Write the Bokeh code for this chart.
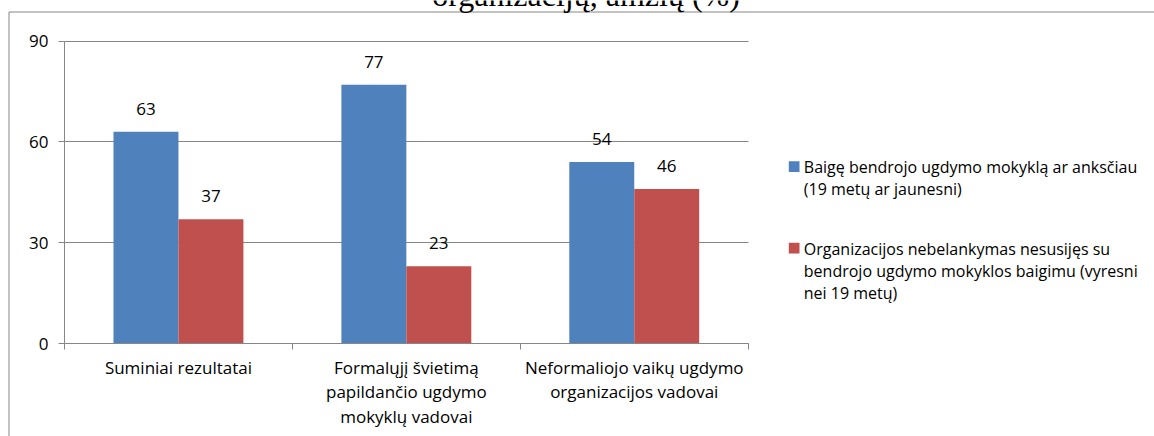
from bokeh.plotting import figure
from bokeh.models import FixedTicker, Range1d, ColumnDataSource
from bokeh.embed import file_html
from bokeh.resources import INLINE
from bokeh.core.properties import value

# ---- data ----
categories = ["Suminiai rezultatai",
              "Formalųjį švietimą\npapildančio ugdymo\nmokyklų vadovai",
              "Neformaliojo vaikų ugdymo\norganizacijos vadovai"]
series_names = [["Baigę bendrojo ugdymo mokyklą ar anksčiau", "(19 metų ar jaunesni)"],
                ["Organizacijos nebelankymas nesusijęs su",
                 "bendrojo ugdymo mokyklos baigimu (vyresni", "nei 19 metų)"]]
blue_vals = [63, 77, 54]
red_vals = [37, 23, 46]
y_ticks = [0, 30, 60, 90]
title_text = "organizacijų, amžių (%)"

# ---- style / layout ----
BLUE = "#4F81BD"
RED = "#C0504D"
GRID = "#868686"
FONT = "Open Sans"
FS = "17px"
LFS = "16px"
W, H = 1154, 436

# plot-area placement in canvas pixels
AX_L, AX_R = 64.0, 747.7          # x of category boundary 0 and 3
AX_B, AX_T = 343.0, 40.5          # y of value 0 and 90
NCAT = len(categories)
YMAX = y_ticks[-1]
sx = (AX_R - AX_L) / NCAT
sy = (AX_B - AX_T) / YMAX


def X(px):
    return (px - AX_L) / sx


def Y(py):
    return (AX_B - py) / sy


p = figure(width=W, height=H, output_backend="svg", toolbar_location=None,
           x_range=Range1d(X(0), X(W)), y_range=Range1d(Y(H), Y(0)),
           min_border=0, min_border_left=0, min_border_right=0,
           min_border_top=0, min_border_bottom=0)
p.outline_line_color = None

bw = 0.285
centers = [i + 0.5 for i in range(NCAT)]
src = ColumnDataSource(dict(
    xb=[c - bw / 2 for c in centers], xr=[c + bw / 2 for c in centers],
    blue=blue_vals, red=red_vals,
    bl=[str(v) for v in blue_vals], rl=[str(v) for v in red_vals]))

p.vbar(x="xb", top="blue", bottom=0, width=bw, source=src, fill_color=BLUE, line_color=None)
p.vbar(x="xr", top="red", bottom=0, width=bw, source=src, fill_color=RED, line_color=None)
p.text(x="xb", y="blue", text="bl", source=src, y_offset=-23, text_align="center",
       text_baseline="middle", text_font=value(FONT), text_font_size=FS, text_color="black")
p.text(x="xr", y="red", text="rl", source=src, y_offset=-23, text_align="center",
       text_baseline="middle", text_font=value(FONT), text_font_size=FS, text_color="black")

# ---- axes (drawn at fixed positions inside the full-canvas frame) ----
ya = p.yaxis[0]
ya.fixed_location = 0
ya.bounds = (0, YMAX)
ya.ticker = FixedTicker(ticks=y_ticks)
ya.axis_line_color = GRID
ya.major_tick_line_color = GRID
ya.major_tick_out = 6
ya.major_tick_in = 0
ya.minor_tick_line_color = None
ya.major_label_standoff = 10
ya.major_label_text_font = FONT
ya.major_label_text_font_size = FS
ya.major_label_text_color = "black"

xa = p.xaxis[0]
xa.fixed_location = 0
xa.bounds = (0, NCAT)
xa.ticker = FixedTicker(ticks=centers, minor_ticks=list(range(NCAT + 1)))
xa.major_label_overrides = {c: lab for c, lab in zip(centers, categories)}
xa.axis_line_color = GRID
xa.major_tick_line_color = None
xa.major_tick_out = 0
xa.major_tick_in = 0
xa.minor_tick_line_color = GRID
xa.minor_tick_out = 6
xa.minor_tick_in = 0
xa.major_label_standoff = 6
xa.major_label_text_font = FONT
xa.major_label_text_font_size = FS
xa.major_label_text_color = "black"
xa.major_label_text_line_height = 1.085

p.xgrid.visible = False
yg = p.ygrid[0]
yg.ticker = FixedTicker(ticks=y_ticks)
yg.cross_bounds = (0, NCAT)
yg.grid_line_color = GRID
yg.grid_line_width = 1

# ---- outer chart border (left and top edges) ----
p.segment(x0=[X(8.5), X(8.5)], y0=[Y(H), Y(11.5)],
          x1=[X(8.5), X(W)], y1=[Y(11.5), Y(11.5)],
          line_color=GRID, line_width=1)

# ---- title (only its lower part is visible) ----
p.text(x=[X(585.5)], y=[Y(-6)], text=[title_text], text_font=value("Liberation Serif"),
       text_font_size="32px", text_align="center", text_baseline="alphabetic",
       text_color="black")

# ---- legend ----
colors = [BLUE, RED]
sq_tops = [160.7, 242.3]
line_gap = 22.3
for k, (lines, col) in enumerate(zip(series_names, colors)):
    t = sq_tops[k]
    p.quad(left=[X(788.3)], right=[X(799)], top=[Y(t)], bottom=[Y(t + 10.8)],
           fill_color=col, line_color=None)
    p.text(x=[X(803.3)] * len(lines),
           y=[Y(t + 5.8 + j * line_gap) for j in range(len(lines))],
           text=lines, text_font=value(FONT), text_font_size=LFS,
           text_align="left", text_baseline="middle", text_color="black")

open("out.html", "w").write(file_html(p, INLINE))
